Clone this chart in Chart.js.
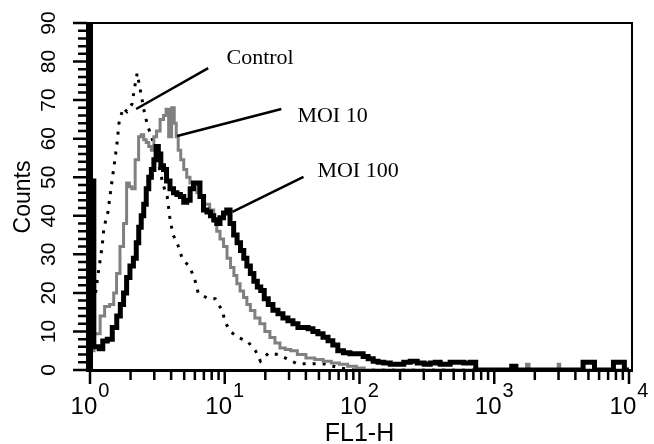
<!DOCTYPE html>
<html><head><meta charset="utf-8">
<script src="https://cdn.jsdelivr.net/npm/chart.js@4.4.0/dist/chart.umd.min.js"></script>
<style>html,body{margin:0;padding:0;background:#fff;}canvas{display:block;}</style>
</head><body>
<canvas id="c" width="654" height="444"></canvas>
<script>
// ---- data (FL1-H value, counts) ----
const moi100X = [1,1.14,1.2,1.29,1.4,1.53,1.63,1.73,1.82,1.92,2.04,2.16,2.25,2.35,2.45,2.56,2.67,2.79,2.92,3.04,3.15,3.28,3.43,3.6,3.8,4.05,4.29,4.55,4.83,5.1,5.35,5.73,6.0,6.35,6.75,7.16,7.6,8.07,8.5,8.95,9.5,10.1,10.6,11.3,12.0,12.7,13.5,14.2,15.0,16.0,16.9,18.0,19.0,20.3,21.8,23.8,25.9,28.2,30.7,33.5,36.4,40,43.3,47,51.3,56,60.9,66,72.2,80,90,102,111,121,132,143,160,179,202,225,252,285,320,350,380,415,451,491,560,630,704,754,1300,1397,1500,4500,4624,5495,5600,7600,7730,9180,9300,10000];
const moi100Y = [49,6,5.5,7.5,8,11,14,17,20,24,27,29,33,37,40,43,47,50,52,54.5,58,56,53,52,49,47,46,45.5,45,43.5,44,47,48.5,48.5,45,41.5,41,40,39,38,39.5,40.7,41.5,38,35,33,31,29,27,25,23,21.5,20.6,18.5,17,15.5,14.6,13.5,12.8,12,11,11,10.7,10,9.4,8.5,7.6,6.5,5,4.5,4.2,4.2,3.5,2.9,2.3,2,1.8,1.5,1.5,2,2.3,1.8,1.5,1.8,2,1.5,1.5,2,2,1.8,2,0,0,1,0,0,2,2,0,0,2,2,0,0];

const moi10X = [1,1.15,1.23,1.34,1.46,1.54,1.61,1.73,1.82,1.92,2.0,2.09,2.24,2.35,2.45,2.56,2.67,2.79,2.92,3.04,3.2,3.43,3.6,3.74,3.93,4.14,4.3,4.43,4.6,4.83,5.1,5.35,5.7,6.04,6.4,6.8,7.4,8.07,8.5,8.95,9.5,10.1,10.7,11.4,12.0,12.6,13.4,14.2,15.0,16.0,17.5,19.0,20.7,22.6,24.6,26.8,29.5,32.3,37,43.3,50,57.8,66,76,88,102,115,1700,1775,1850,2950,3020,3100,10000];
const moi10Y = [5,9.4,14,16.5,17,20,25,32,38,48.5,47.5,47,54.5,60.5,61,59.7,59,58,57,60.5,62,65,66,67.6,60.5,68,64,60.5,57,54.5,52,50,48.5,47.5,46,45,43,41.5,38.5,36,34,32,29,26.6,24.5,22.4,20.5,18.8,17,15.4,13.5,12,10,8.4,7,5.7,5.3,5,4,3.1,2.7,2.3,1.8,1.5,1,0.5,0,0,1.5,0,0,1.5,0,0];

const controlX = [1.1,1.15,1.23,1.27,1.36,1.43,1.51,1.59,1.64,1.76,1.88,2.05,2.16,2.24,2.35,2.56,2.70,2.89,3.15,3.49,3.74,3.93,4.14,4.43,4.83,5.54,6.04,6.35,7.54,8.50,9.58,10.1,11.0,12.6,14.7,16.9,18.4,21.1,25.0,28.2,34.6,54,72,90,10000];
const controlY = [20,25,32,37,41,47,53,59,64,68,67,69,74,77,73,66,63,60,55,48,45,39,35,33,29,26.5,23,20,18.5,18.5,15.4,12.3,10,8.4,7.5,5,2.3,4.4,4,3.1,1.6,1.6,0.5,0,0];

// ---- axis ticks ----
const xTickExponents = [0,1,2,3,4];
const xMinorMultipliers = [2,3,4,5,6,7,8,9];
const yTickLabels = [0,10,20,30,40,50,60,70,80,90];
const yMinorStep = 2;

// ---- annotations (data units) ----
const annotLabels = ['Control','MOI 10','MOI 100'];
const annotLineFrom = [[2.20,67.7],[4.43,60.7],[11.4,41.0]];
const annotLineTo = [[7.54,78.3],[26.3,67.7],[38.4,50.1]];
const annotTextAt = [[10.3,79.4],[34.6,64.3],[48.7,50.1]];

const zip = (xs, ys) => xs.map((x, i) => ({x, y: ys[i]}));

const SANS = '"Liberation Sans", Arial, Helvetica, sans-serif';
const SERIF = '"Liberation Serif", "Times New Roman", serif';

const axesPlugin = {
  id: 'axesDecor',
  afterDatasetsDraw(chart) {
    const ctx = chart.ctx;
    const xs = chart.scales.x, ys = chart.scales.y;
    const a = chart.chartArea;
    ctx.save();
    ctx.fillStyle = '#000';
    ctx.strokeStyle = '#000';
    // frame
    ctx.fillRect(a.left - 4, a.top - 1, 7, a.bottom - a.top + 3);      // thick left axis
    ctx.fillRect(a.left - 4, a.bottom - 1, a.right - a.left + 8, 3);   // bottom axis
    ctx.fillRect(a.left - 4, a.top - 1, a.right - a.left + 8, 2);      // top border
    ctx.fillRect(a.right + 2, a.top - 1, 2, a.bottom - a.top + 3);     // right border
    // x ticks
    ctx.lineWidth = 2.5;
    ctx.beginPath();
    for (const e of xTickExponents) {
      const px = xs.getPixelForValue(Math.pow(10, e));
      ctx.moveTo(px, a.bottom + 1);
      ctx.lineTo(px, a.bottom + 14);
      if (e < 4) {
        for (const m of xMinorMultipliers) {
          const q = xs.getPixelForValue(m * Math.pow(10, e));
          ctx.moveTo(q, a.bottom + 1);
          ctx.lineTo(q, a.bottom + 10);
        }
      }
    }
    // y ticks
    for (let v = ys.min; v <= ys.max; v += yMinorStep) {
      const py = ys.getPixelForValue(v);
      const major = yTickLabels.includes(v);
      ctx.moveTo(a.left - (major ? 17 : 12), py);
      ctx.lineTo(a.left - 3, py);
    }
    ctx.stroke();
    ctx.restore();
  },
  afterDraw(chart) {
    const ctx = chart.ctx;
    const xs = chart.scales.x, ys = chart.scales.y;
    const a = chart.chartArea;
    ctx.save();
    ctx.fillStyle = '#000';
    ctx.strokeStyle = '#000';
    ctx.textBaseline = 'alphabetic';
    // x tick labels 10^n
    for (const e of xTickExponents) {
      const px = xs.getPixelForValue(Math.pow(10, e));
      ctx.font = '24px ' + SANS;
      const w1 = ctx.measureText('10').width;
      ctx.font = '20px ' + SANS;
      const w2 = ctx.measureText(String(e)).width;
      const start = px - (w1 + w2 + 1) / 2;
      ctx.textAlign = 'left';
      ctx.font = '24px ' + SANS;
      ctx.fillText('10', start, 414);
      ctx.font = '20px ' + SANS;
      ctx.fillText(String(e), start + w1 + 1, 397);
    }
    // x title
    ctx.font = '25px ' + SANS;
    ctx.textAlign = 'center';
    ctx.fillText('FL1-H', (a.left + a.right) / 2, 441);
    // y tick labels rotated
    ctx.font = '21px ' + SANS;
    for (const v of yTickLabels) {
      const py = ys.getPixelForValue(v);
      ctx.save();
      ctx.translate(55, py);
      ctx.rotate(-Math.PI / 2);
      ctx.textAlign = 'center';
      ctx.fillText(String(v), 0, 0);
      ctx.restore();
    }
    // y title
    ctx.save();
    ctx.translate(30, 197);
    ctx.rotate(-Math.PI / 2);
    ctx.font = '23px ' + SANS;
    ctx.textAlign = 'center';
    ctx.fillText('Counts', 0, 0);
    ctx.restore();
    // annotations
    ctx.lineWidth = 2.5;
    for (let i = 0; i < annotLabels.length; i++) {
      ctx.beginPath();
      ctx.moveTo(xs.getPixelForValue(annotLineFrom[i][0]), ys.getPixelForValue(annotLineFrom[i][1]));
      ctx.lineTo(xs.getPixelForValue(annotLineTo[i][0]), ys.getPixelForValue(annotLineTo[i][1]));
      ctx.stroke();
      ctx.font = '22px ' + SERIF;
      ctx.textAlign = 'left';
      ctx.fillText(annotLabels[i], xs.getPixelForValue(annotTextAt[i][0]), ys.getPixelForValue(annotTextAt[i][1]));
    }
    ctx.restore();
  }
};

new Chart(document.getElementById('c'), {
  type: 'line',
  data: {
    datasets: [
      {label: 'MOI 100', data: zip(moi100X, moi100Y), borderColor: '#000', borderWidth: 5, stepped: 'middle', order: 1},
      {label: 'MOI 10', data: zip(moi10X, moi10Y), borderColor: '#808080', borderWidth: 3, stepped: 'middle', order: 2},
      {label: 'Control', data: zip(controlX, controlY), borderColor: '#000', borderWidth: 3, borderDash: [3, 7], order: 3}
    ]
  },
  options: {
    responsive: false,
    animation: false,
    devicePixelRatio: 1,
    elements: {point: {radius: 0}, line: {tension: 0}},
    layout: {padding: {top: 23, right: 25, left: 0, bottom: 0}},
    plugins: {legend: {display: false}, tooltip: {enabled: false}},
    scales: {
      x: {
        type: 'logarithmic', min: 1, max: 10000,
        afterFit: s => { s.height = 74; },
        ticks: {display: false},
        grid: {display: false},
        border: {display: false}
      },
      y: {
        type: 'linear', min: 0, max: 90,
        ticks: {display: false, stepSize: yMinorStep},
        afterFit: s => { s.width = 90; },
        grid: {display: false},
        border: {display: false}
      }
    }
  },
  plugins: [axesPlugin]
});
</script>
</body></html>
